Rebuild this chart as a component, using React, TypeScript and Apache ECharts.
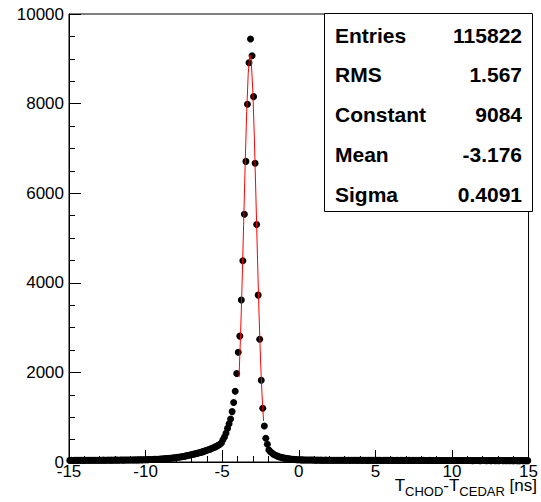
import React, { useEffect, useRef } from "react";
import * as echarts from "echarts";

// Histogram definition: 300 bins of 0.1 ns from -15 to 15
const BIN_LOW = -15;
const BIN_WIDTH = 0.1;

// Bin contents (left to right)
const counts: number[] = [
  // -14.95 .. -10.05
  36, 38, 35, 37, 39, 36, 38, 37, 40, 36,
  38, 39, 37, 40, 38, 41, 39, 38, 40, 41,
  40, 39, 42, 40, 41, 43, 40, 42, 41, 43,
  42, 44, 41, 43, 45, 42, 44, 46, 43, 45,
  46, 44, 47, 45, 48, 47, 49, 48, 50, 51,
  // -9.95 .. -5.05
  52, 53, 55, 54, 57, 58, 60, 61, 63, 65,
  67, 70, 72, 75, 78, 81, 85, 88, 92, 96,
  104, 108, 113, 118, 124, 130, 137, 144, 152, 160,
  167, 175, 184, 192, 201, 211, 221, 232, 243, 255,
  267, 280, 293, 307, 322, 338, 355, 375, 398, 425,
  // -4.95 .. -0.05
  495, 560, 640, 750, 855, 960, 1125, 1330, 1580, 1975,
  2450, 2810, 3616, 4494, 5529, 6710, 7984, 8913, 9442, 9069,
  8155, 6667, 5300, 3725, 2740, 1825, 1200, 804, 529, 395,
  268, 230, 200, 175, 155, 138, 125, 113, 104, 96,
  89, 83, 77, 72, 67, 63, 59, 56, 53, 51,
  // 0.05 .. 4.95
  49, 48, 47, 46, 45, 45, 44, 44, 43, 43,
  42, 41, 43, 40, 42, 41, 40, 42, 39, 41,
  40, 41, 39, 40, 38, 40, 41, 39, 38, 40,
  39, 38, 40, 37, 39, 38, 40, 38, 37, 39,
  38, 37, 39, 38, 36, 38, 37, 39, 36, 38,
  // 5.05 .. 9.95
  37, 36, 38, 37, 35, 37, 38, 36, 37, 35,
  36, 37, 35, 36, 38, 35, 36, 37, 34, 36,
  35, 37, 36, 34, 36, 35, 37, 34, 36, 35,
  34, 36, 35, 33, 35, 36, 34, 35, 33, 35,
  34, 35, 33, 35, 34, 32, 35, 34, 33, 34,
  // 10.05 .. 14.95
  33, 35, 32, 34, 33, 34, 32, 33, 35, 32,
  33, 32, 34, 31, 33, 32, 34, 33, 31, 33,
  32, 33, 31, 32, 34, 31, 32, 33, 30, 32,
  31, 33, 32, 30, 32, 31, 33, 30, 32, 31,
  30, 32, 31, 29, 31, 32, 30, 31, 29, 30,
];

const fitX: number[] = [-3.9, -3.8, -3.7, -3.6, -3.5, -3.4, -3.3, -3.2, -3.18, -3.15, -3.1, -3.0, -2.9, -2.8, -2.7, -2.6, -2.5, -2.4, -2.3];
const fitY: number[] = [1898, 2839, 4000, 5309, 6639, 7819, 8676, 9068, 9084, 9066, 8929, 8281, 7234, 5955, 4617, 3371, 2319, 1503, 917];

// Statistics box
const statNames: string[] = ["Entries", "RMS", "Constant", "Mean", "Sigma"];
const statValues: string[] = ["115822", "1.567", "9084", "-3.176", "0.4091"];

const FONT = "'Liberation Sans', Arial, Helvetica, sans-serif";

export default function App() {
  const ref = useRef<HTMLDivElement>(null);

  useEffect(() => {
    if (!ref.current) return;
    const chart = echarts.init(ref.current, null, { renderer: "svg" });

    const points = counts.map((c, i) => [BIN_LOW + BIN_WIDTH * (i + 0.5), c]);
    const fitLine = fitX.map((x, i) => [x, fitY[i]]);

    const statElements: any[] = [
      {
        type: "rect",
        shape: { x: 324.5, y: 13.5, width: 208, height: 198 },
        style: { fill: "#fff", stroke: "#000", lineWidth: 1 },
        z: 100,
      },
    ];
    statNames.forEach((name, i) => {
      const y = 35 + i * 39.8;
      statElements.push({
        type: "text",
        x: 335,
        y,
        z: 101,
        style: {
          text: name,
          fill: "#000",
          font: `bold 21px ${FONT}`,
          align: "left",
          verticalAlign: "middle",
        },
      });
      statElements.push({
        type: "text",
        x: 522,
        y,
        z: 101,
        style: {
          text: statValues[i],
          fill: "#000",
          font: `bold 21px ${FONT}`,
          align: "right",
          verticalAlign: "middle",
        },
      });
    });

    // Axis title T_CHOD - T_CEDAR [ns]
    const mainF = 17;
    const subF = 13;
    const parts: { t: string; sub: boolean; w: number }[] = [
      { t: "T", sub: false, w: 0.611 * mainF },
      { t: "CHOD", sub: true, w: 2.944 * subF },
      { t: "-", sub: false, w: 0.333 * mainF },
      { t: "T", sub: false, w: 0.611 * mainF },
      { t: "CEDAR", sub: true, w: 3.5 * subF },
      { t: " [ns]", sub: false, w: 1.89 * mainF },
    ];
    const totalW = parts.reduce((s, p) => s + p.w, 0);
    let cx = 537 - totalW;
    const titleEls: any[] = [];
    parts.forEach((p) => {
      titleEls.push({
        type: "text",
        x: cx,
        y: p.sub ? 491 : 485,
        z: 101,
        style: {
          text: p.t,
          fill: "#000",
          font: `${p.sub ? subF : mainF}px ${FONT}`,
          align: "left",
          verticalAlign: "middle",
        },
      });
      cx += p.w;
    });

    const axisCommon = {
      axisLine: { show: true, onZero: false, lineStyle: { color: "#000", width: 1 } },
      axisTick: { show: true, inside: true, length: 12, lineStyle: { color: "#000", width: 1 } },
      minorTick: { show: true, length: 6, lineStyle: { color: "#000", width: 1 } },
      splitLine: { show: false },
      minorSplitLine: { show: false },
    };

    chart.setOption({
      animation: false,
      backgroundColor: "#fff",
      grid: {
        left: 69,
        top: 14,
        width: 463,
        height: 448,
        show: true,
        borderColor: "#000",
        borderWidth: 1,
        backgroundColor: "transparent",
      },
      xAxis: {
        type: "value",
        min: -15,
        max: 15,
        interval: 5,
        ...axisCommon,
        minorTick: { ...axisCommon.minorTick, splitNumber: 5 },
        axisLabel: {
          color: "#000",
          fontSize: 17,
          fontFamily: FONT,
          margin: 1,
          showMinLabel: true,
          showMaxLabel: true,
          formatter: (v: number) => String(v),
        },
      },
      yAxis: {
        type: "value",
        min: 0,
        max: 10000,
        interval: 2000,
        ...axisCommon,
        minorTick: { ...axisCommon.minorTick, splitNumber: 4 },
        axisLabel: {
          color: "#000",
          fontSize: 17,
          fontFamily: FONT,
          margin: 5,
          formatter: (v: number) => String(v),
        },
      },
      series: [
        {
          type: "scatter",
          data: points,
          symbol: "circle",
          symbolSize: 7,
          itemStyle: { color: "#000", opacity: 1 },
          z: 2,
          silent: true,
        },
        {
          type: "line",
          data: fitLine,
          showSymbol: false,
          symbol: "none",
          smooth: false,
          lineStyle: { color: "#ff0000", width: 1 },
          z: 3,
          silent: true,
        },
      ],
      graphic: [...statElements, ...titleEls],
    });

    return () => chart.dispose();
  }, []);

  return (
    <div
      ref={ref}
      style={{ position: "fixed", left: 0, top: 0, width: 541, height: 502 }}
    />
  );
}
